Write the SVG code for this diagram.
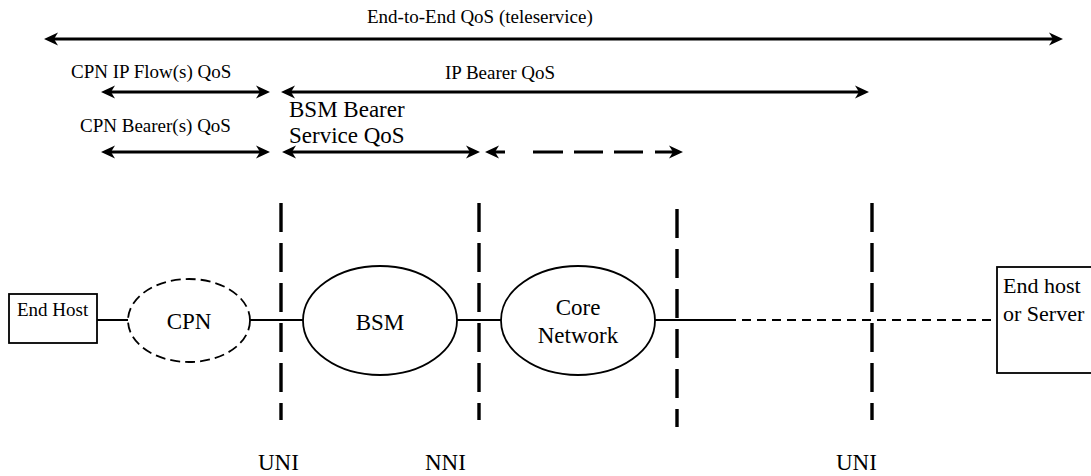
<svg xmlns="http://www.w3.org/2000/svg" width="1091" height="476" viewBox="0 0 1091 476">
<style>
text{font-family:"Liberation Serif","Times New Roman",serif;fill:#000}
.t19{font-size:19px}
.t23{font-size:23px}
.t22{font-size:22px}
.qos{stroke:#000;stroke-width:3;fill:none;marker-start:url(#ah);marker-end:url(#ah)}
.iface{stroke:#000;stroke-width:3.4;fill:none;stroke-dasharray:29 11}
.link{stroke:#000;stroke-width:2;fill:none}
.node{stroke:#000;stroke-width:1.8;fill:#fff}
</style>
<defs>
<marker id="ah" markerUnits="userSpaceOnUse" markerWidth="16" markerHeight="14" viewBox="0 0 16 14" refX="4" refY="7" orient="auto-start-reverse">
<path d="M0,0.5 L14,7 L0,13.5 L4,7 Z" fill="#000"/>
</marker>
</defs>
<rect width="1091" height="476" fill="#fff"/>

<g id="qos-arrows">
<line class="qos" x1="54" y1="39" x2="1053" y2="39"/>
<line class="qos" x1="111" y1="92" x2="260" y2="92"/>
<line class="qos" x1="291" y1="92" x2="859" y2="92"/>
<line class="qos" x1="111" y1="152" x2="260" y2="152"/>
<line class="qos" x1="292" y1="152" x2="470" y2="152"/>
<path class="qos" d="M495,152 L505,152 M533,152 L563,152 M574,152 L603,152 M614,152 L643,152 M655,152 L673,152"/>
</g>

<g id="qos-labels">
<text class="t19" x="367" y="23">End-to-End QoS (teleservice)</text>
<text class="t19" x="71" y="78">CPN IP Flow(s) QoS</text>
<text class="t19" x="445" y="79">IP Bearer QoS</text>
<text class="t19" x="80" y="132">CPN Bearer(s) QoS</text>
<text class="t23" x="289" y="117">BSM Bearer</text>
<text class="t23" x="289" y="143">Service QoS</text>
</g>

<g id="interfaces">
<line class="iface" x1="281" y1="203" x2="281" y2="420"/>
<line class="iface" x1="479" y1="203" x2="479" y2="420"/>
<line class="iface" x1="677" y1="209" x2="677" y2="427"/>
<line class="iface" x1="872" y1="203" x2="872" y2="420"/>
<text class="t23" x="258" y="470">UNI</text>
<text class="t23" x="425" y="470">NNI</text>
<text class="t23" x="836" y="470">UNI</text>
</g>

<g id="connectors">
<line class="link" x1="97" y1="320" x2="128" y2="320"/>
<line class="link" x1="250" y1="320" x2="303" y2="320"/>
<line class="link" x1="457" y1="320" x2="501" y2="320"/>
<line class="link" x1="655" y1="320" x2="727" y2="320"/>
<line class="link" x1="727" y1="320" x2="997" y2="320" stroke-dasharray="9 6"/>
</g>

<g id="end-host">
<rect class="node" x="9" y="294" width="88" height="49"/>
<text class="t19" x="17" y="316">End Host</text>
</g>

<g id="cpn">
<ellipse class="node" cx="189" cy="320.5" rx="61" ry="41.5" stroke-dasharray="10 5"/>
<text class="t23" x="189" y="329" text-anchor="middle">CPN</text>
</g>

<g id="bsm">
<ellipse class="node" cx="380" cy="320.5" rx="77" ry="54.5"/>
<text class="t23" x="380" y="330" text-anchor="middle">BSM</text>
</g>

<g id="core-network">
<ellipse class="node" cx="578" cy="320.5" rx="77" ry="54.5"/>
<text class="t23" x="578" y="315" text-anchor="middle">Core</text>
<text class="t23" x="578" y="343" text-anchor="middle">Network</text>
</g>

<g id="end-host-server">
<rect class="node" x="997" y="267" width="110" height="106"/>
<text class="t22" x="1003" y="293">End host</text>
<text class="t22" x="1003" y="321">or Server</text>
</g>
</svg>
